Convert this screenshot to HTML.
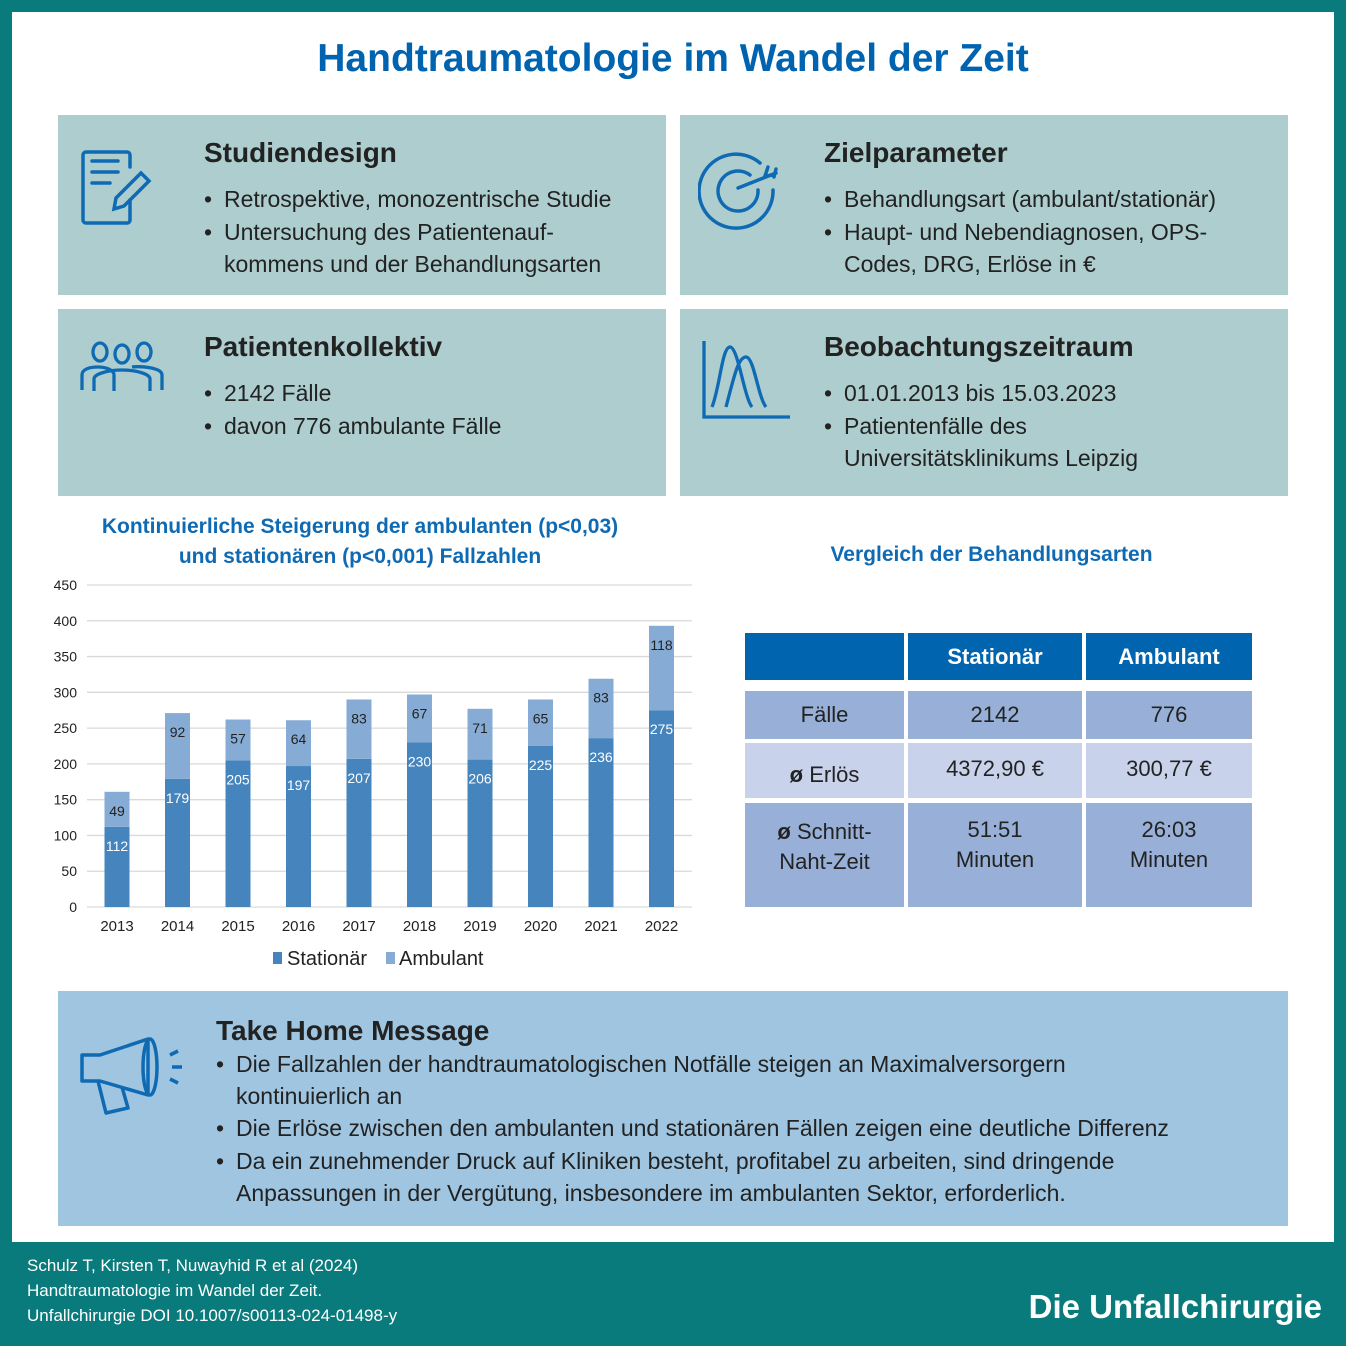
<!DOCTYPE html>
<html><head><meta charset="utf-8"><style>
*{margin:0;padding:0;box-sizing:border-box}
body{width:1346px;height:1346px;background:#0a7b7c;position:relative;overflow:hidden;font-family:"Liberation Sans",sans-serif;color:#222}
.abs{position:absolute}
.inner{left:12px;top:12px;width:1322px;height:1230px;background:#fff}
.box{background:#adcdcf}
.h{font-weight:bold;font-size:28px;color:#222}
.li{font-size:23px;line-height:32.5px;white-space:nowrap}
.li div{padding-left:20px;text-indent:-20px}
.li div::before{content:"•";display:inline-block;width:20px;text-indent:0}
.cell{position:absolute;display:flex;align-items:center;justify-content:center;text-align:center;font-size:22px;color:#222;line-height:30px}
</style></head><body>
<div class="abs inner"></div>
<div class="abs" style="left:0;width:1346px;top:37px;text-align:center;font-size:39px;font-weight:bold;color:#0063b0">Handtraumatologie im Wandel der Zeit</div>

<div class="abs box" style="left:58px;top:115px;width:608px;height:180px">
<svg class="abs" style="left:20px;top:30px" width="85" height="85" viewBox="0 0 85 85" fill="none" stroke="#0f6ab4" stroke-width="3.5" stroke-linecap="round"><path d="M52 55v20a3 3 0 0 1-3 3H8a3 3 0 0 1-3-3V10a3 3 0 0 1 3-3h41a3 3 0 0 1 3 3v12"/><path d="M14 16h26M14 27h26M14 38h18"/><path d="M63 28l8 8-25 25-10 3 2-11z"/></svg>
<div class="abs h" style="left:146px;top:22px">Studiendesign</div>
<div class="abs li" style="left:146px;top:68px;width:460px"><div>Retrospektive, monozentrische Studie</div><div>Untersuchung des Patientenauf-<br>kommens und der Behandlungsarten</div></div>
</div>
<div class="abs box" style="left:680px;top:115px;width:608px;height:180px">
<svg class="abs" style="left:18px;top:30px" width="90" height="85" viewBox="0 0 90 85" fill="none" stroke="#0f6ab4" stroke-width="3.5" stroke-linecap="round"><path d="M62 18A37 37 0 1 0 75 45"/><path d="M52 30A20 20 0 1 0 60 45"/><path d="M40 43L78 28M70 22l-3 9 9-1M78 24l-2 8"/></svg>
<div class="abs h" style="left:144px;top:22px">Zielparameter</div>
<div class="abs li" style="left:144px;top:68px;width:460px"><div>Behandlungsart (ambulant/stationär)</div><div>Haupt- und Nebendiagnosen, OPS-<br>Codes, DRG, Erlöse in €</div></div>
</div>
<div class="abs box" style="left:58px;top:309px;width:608px;height:187px">
<svg class="abs" style="left:20px;top:28px" width="90" height="60" viewBox="0 0 90 60" fill="none" stroke="#0f6ab4" stroke-width="3.3"><ellipse cx="22" cy="15" rx="7" ry="9"/><ellipse cx="44" cy="17" rx="7" ry="9"/><ellipse cx="66" cy="15" rx="7" ry="9"/><path d="M4 53V38c0-6 8-8 16-8s16 3 16 8v16M16 54V42c0-5 14-9 28-9s28 4 28 9v12M54 30c6-1 30 0 30 8v15"/></svg>
<div class="abs h" style="left:146px;top:22px">Patientenkollektiv</div>
<div class="abs li" style="left:146px;top:68px;width:460px"><div>2142 Fälle</div><div>davon 776 ambulante Fälle</div></div>
</div>
<div class="abs box" style="left:680px;top:309px;width:608px;height:187px">
<svg class="abs" style="left:18px;top:28px" width="95" height="85" viewBox="0 0 95 85" fill="none" stroke="#0f6ab4" stroke-width="3.3"><path d="M6 4v76h86"/><path d="M14 70c8-20 10-60 18-60s14 50 22 60M28 70c8-30 12-50 20-50s12 40 20 50"/></svg>
<div class="abs h" style="left:144px;top:22px">Beobachtungszeitraum</div>
<div class="abs li" style="left:144px;top:68px;width:460px"><div>01.01.2013 bis 15.03.2023</div><div>Patientenfälle des<br>Universitätsklinikums Leipzig</div></div>
</div>

<div class="abs" style="left:40px;width:640px;top:512px;text-align:center;font-size:21px;font-weight:bold;color:#0f6ab4;line-height:30px">Kontinuierliche Steigerung der ambulanten (p&lt;0,03)<br>und stationären (p&lt;0,001) Fallzahlen</div>
<svg class="abs" id="chart" style="left:0;top:560px" width="720" height="420"></svg>

<div class="abs" style="left:738px;width:507px;top:543px;text-align:center;font-size:21px;font-weight:bold;color:#0f6ab4">Vergleich der Behandlungsarten</div>
<div>
<div class="cell" style="left:745px;top:633px;width:159px;height:47px;background:#0064af"></div>
<div class="cell" style="left:908px;top:633px;width:174px;height:47px;background:#0064af;color:#fff;font-weight:bold">Stationär</div>
<div class="cell" style="left:1086px;top:633px;width:166px;height:47px;background:#0064af;color:#fff;font-weight:bold">Ambulant</div>
<div class="cell" style="left:745px;top:691px;width:159px;height:48px;background:#98b0d8">Fälle</div>
<div class="cell" style="left:908px;top:691px;width:174px;height:48px;background:#98b0d8">2142</div>
<div class="cell" style="left:1086px;top:691px;width:166px;height:48px;background:#98b0d8">776</div>
<div class="cell" style="left:745px;top:743px;width:159px;height:55px;background:#c8d2ea;padding-top:8px"><b>ø</b>&nbsp;Erlös</div>
<div class="cell" style="left:908px;top:743px;width:174px;height:55px;background:#c8d2ea;padding-bottom:4px">4372,90 €</div>
<div class="cell" style="left:1086px;top:743px;width:166px;height:55px;background:#c8d2ea;padding-bottom:4px">300,77 €</div>
<div class="cell" style="left:745px;top:803px;width:159px;height:104px;background:#98b0d8;align-items:flex-start;padding-top:14px"><span><b>ø</b> Schnitt-<br>Naht-Zeit</span></div>
<div class="cell" style="left:908px;top:803px;width:174px;height:104px;background:#98b0d8;align-items:flex-start;padding-top:12px"><span>51:51<br>Minuten</span></div>
<div class="cell" style="left:1086px;top:803px;width:166px;height:104px;background:#98b0d8;align-items:flex-start;padding-top:12px"><span>26:03<br>Minuten</span></div>
</div>

<div class="abs" style="left:58px;top:991px;width:1230px;height:235px;background:#9fc5e0">
<svg class="abs" style="left:20px;top:42px" width="110" height="85" viewBox="0 0 110 85" fill="none" stroke="#0f6ab4" stroke-width="3.5" stroke-linejoin="round"><path d="M4 22h18l48-16v56L22 48H4z"/><ellipse cx="72" cy="34" rx="7" ry="28"/><path d="M20 48l8 32 22-5-6-21"/><path d="M92 22l8-4M94 34h10M92 46l8 4"/></svg>
<div class="abs h" style="left:158px;top:24px">Take Home Message</div>
<div class="abs li" style="left:158px;top:57px;width:1060px;line-height:32.2px"><div>Die Fallzahlen der handtraumatologischen Notfälle steigen an Maximalversorgern<br>kontinuierlich an</div><div>Die Erlöse zwischen den ambulanten und stationären Fällen zeigen eine deutliche Differenz</div><div>Da ein zunehmender Druck auf Kliniken besteht, profitabel zu arbeiten, sind dringende<br>Anpassungen in der Vergütung, insbesondere im ambulanten Sektor, erforderlich.</div></div>
</div>

<div class="abs" style="left:27px;top:1253px;color:#fff;font-size:17px;line-height:25px">Schulz T, Kirsten T, Nuwayhid R et al (2024)<br>Handtraumatologie im Wandel der Zeit.<br>Unfallchirurgie DOI 10.1007/s00113-024-01498-y</div>
<div class="abs" style="right:24px;top:1288px;color:#fff;font-size:33px;font-weight:bold">Die Unfallchirurgie</div>

<script>
const years=["2013","2014","2015","2016","2017","2018","2019","2020","2021","2022"];
const stationaer=[112,179,205,197,207,230,206,225,236,275];
const ambulant=[49,92,57,64,83,67,71,65,83,118];
const yTicks=[0,50,100,150,200,250,300,350,400,450];
const svg=document.getElementById('chart');
const NS='http://www.w3.org/2000/svg';
const y0=347,ppu=322/450,x0=117,step=60.5,bw=25;
const Y=v=>y0-v*ppu, X=i=>x0+i*step;
function mk(t,a,txt){const e=document.createElementNS(NS,t);for(const k in a)e.setAttribute(k,a[k]);if(txt!==undefined)e.textContent=txt;svg.appendChild(e);return e;}
yTicks.forEach(v=>{
 const l=mk('line',{x1:87,x2:692,y1:Y(v),y2:Y(v),stroke:'#d9d9d9','stroke-width':1.3});
 
 
 const t=mk('text',{x:77,y:Y(v)+5,'text-anchor':'end','font-size':14,fill:'#222'},v);
 
 
});
years.forEach((yr,i)=>{
 const s=stationaer[i],a=ambulant[i],cx=X(i);
 const r1=mk('rect',{x:cx-bw/2,y:Y(s),width:bw,height:s*ppu,fill:'#4584bc'});
 
 
 const r2=mk('rect',{x:cx-bw/2,y:Y(s+a),width:bw,height:a*ppu,fill:'#86acd5'});
 
 
 const t1=mk('text',{x:cx,y:Y(s)+24,'text-anchor':'middle','font-size':14,fill:'#fff'},s);
 
 
 const t2=mk('text',{x:cx,y:Y(s+a)+24,'text-anchor':'middle','font-size':14,fill:'#222'},a);
 
 
 const t3=mk('text',{x:cx,y:y0+24,'text-anchor':'middle','font-size':15,fill:'#222'},yr);
 
 
});
const lg1=mk('rect',{x:273,y:392,width:9,height:12,fill:'#4584bc'});


const lt1=mk('text',{x:287,y:405,'font-size':20,fill:'#222'},'Stationär');


const lg2=mk('rect',{x:386,y:392,width:9,height:12,fill:'#86acd5'});


const lt2=mk('text',{x:399,y:405,'font-size':20,fill:'#222'},'Ambulant');


</script>
</body></html>
